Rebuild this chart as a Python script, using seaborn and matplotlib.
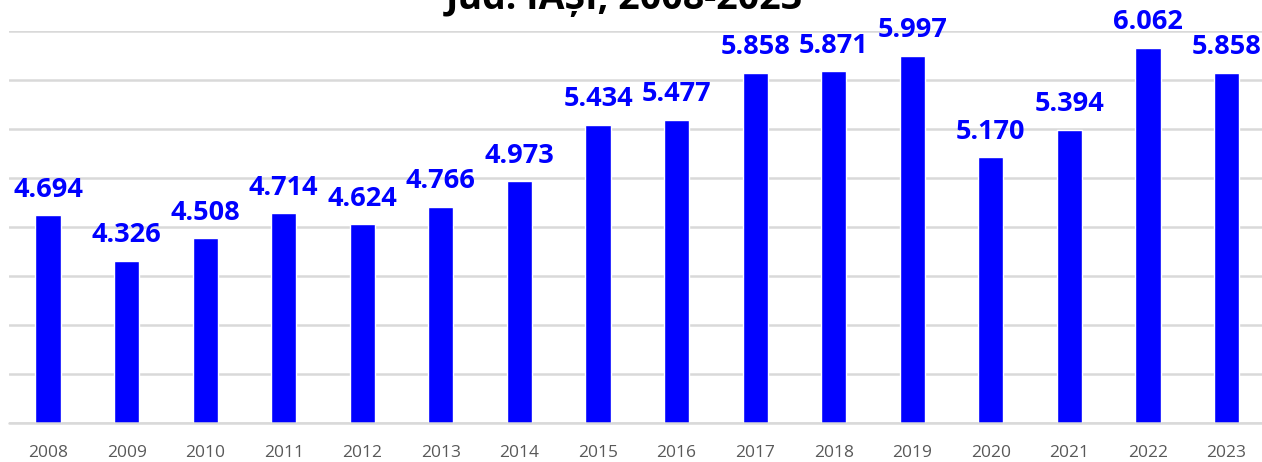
import matplotlib
matplotlib.use("Agg")
import matplotlib.pyplot as plt
import seaborn as sns
import pandas as pd

# Data
years = ["2008", "2009", "2010", "2011", "2012", "2013", "2014", "2015",
         "2016", "2017", "2018", "2019", "2020", "2021", "2022", "2023"]
values = [4.694, 4.326, 4.508, 4.714, 4.624, 4.766, 4.973, 5.434,
          5.477, 5.858, 5.871, 5.997, 5.170, 5.394, 6.062, 5.858]
labels = ["4.694", "4.326", "4.508", "4.714", "4.624", "4.766", "4.973", "5.434",
          "5.477", "5.858", "5.871", "5.997", "5.170", "5.394", "6.062", "5.858"]
title = "Jud. IAȘI, 2008-2023"

df = pd.DataFrame({"year": years, "value": values})

sns.set_style("white")
plt.rcParams["font.family"] = ["Open Sans", "DejaVu Sans"]

fig = plt.figure(figsize=(12.62, 4.62), dpi=100)
ax = fig.add_axes([0.0069, 0.0844, 0.9962, 0.8485])

sns.barplot(data=df, x="year", y="value", color="#0000FF", width=0.32,
            saturation=1, ax=ax, zorder=3)

ax.set_ylim(3.0, 6.2)
ax.set_yticks([3.0 + 0.4 * i for i in range(9)])
ax.set_xlim(-0.5, 15.5)
ax.yaxis.grid(True, color="#D9D9D9", linewidth=1.8, zorder=0)
ax.set_axisbelow(True)
# baseline (category axis line)
ax.axhline(3.0, color="#D9D9D9", linewidth=1.8, clip_on=False, zorder=4)
for s in ax.spines.values():
    s.set_visible(False)
ax.tick_params(axis="y", left=False, labelleft=False)
ax.tick_params(axis="x", bottom=False, labelsize=12.5, colors="#595959", pad=12)
ax.set_xlabel("")
ax.set_ylabel("")

for i, (v, lab) in enumerate(zip(values, labels)):
    ax.annotate(lab, (i, v), xytext=(0, 9), textcoords="offset points",
                ha="center", va="bottom", color="#0000FF",
                fontsize=19.5, fontweight="bold")

fig.text(0.495, 1.0 - 9 / 462, title, ha="center", va="baseline",
         fontsize=27, fontweight="bold", color="#000000")

fig.savefig("out.png", dpi=100)
